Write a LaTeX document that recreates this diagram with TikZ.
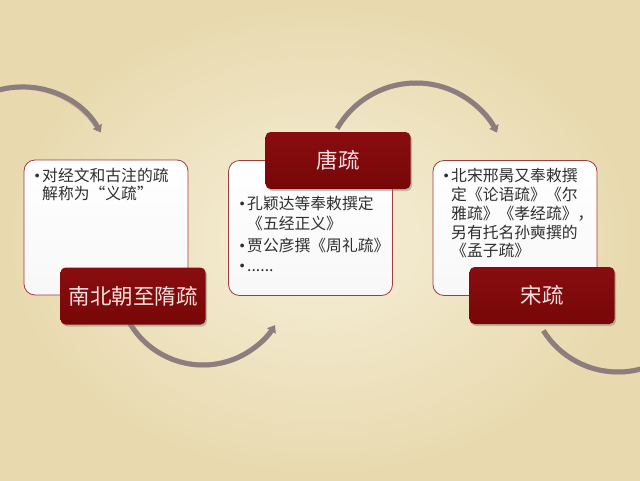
\documentclass[tikz,border=0pt]{standalone}
\usepackage{fontspec}
\newfontfamily\song{Noto Sans CJK SC}
\usetikzlibrary{arrows.meta,shadows,calc}
\definecolor{parch}{HTML}{F6EFD8}
\definecolor{parchdark}{HTML}{E8D9AE}
\definecolor{boxred}{HTML}{780708}
\definecolor{boxredlight}{HTML}{880D10}
\definecolor{arcgray}{HTML}{8D7D7F}
\definecolor{edgered}{HTML}{A03C3C}
\definecolor{bodytext}{HTML}{2E2E2E}
\definecolor{titletext}{HTML}{F4E2E0}
\newcommand\bul{\makebox[11pt][l]{\normalfont\fontsize{17}{17}\selectfont\raisebox{0.3pt}{\textbullet}}}
\begin{document}
\begin{tikzpicture}[x=1pt,y=-1pt,
  panel/.style={draw=edgered, line width=0.8pt, rounded corners=11pt,
    minimum width=164pt, minimum height=135pt, inner sep=0pt,
    top color=white, bottom color=white!94!gray},
  title/.style={top color=boxredlight, bottom color=boxred, rounded corners=5pt,
    minimum width=145pt, minimum height=57pt, inner sep=0pt, text=titletext,
    font=\song\fontsize{21.5}{24}\selectfont,
    drop shadow={opacity=0.45, shadow xshift=1.5pt, shadow yshift=-2pt}},
  item/.style={anchor=base west, inner sep=0pt, text=bodytext,
    font=\song\fontsize{15.8}{19}\selectfont},
  arcline/.style={draw=arcgray, line width=5pt},
  arcshade/.style={draw=black, opacity=0.16, line width=5pt},
  tipped/.style={-{Triangle[width=10pt,length=7pt]}}]
% background
\useasboundingbox (0,0) rectangle (640,480);
\shade[inner color=parch, outer color=parchdark] (0,0) rectangle (640,480);
% arc centres
\coordinate (c1) at (22,178);
\coordinate (c2) at (203,280);
\coordinate (c3) at (416,174);
\coordinate (c4) at (618,284);
% arc shadows
\begin{scope}[shift={(1.5,2.5)}]
\draw[arcshade] ($(c1)+(-107:91)$) arc[start angle=-107,end angle=-33,radius=91];
\draw[arcshade] ($(c2)+(150:85)$) arc[start angle=150,end angle=35,radius=85];
\draw[arcshade] ($(c3)+(-150:91)$) arc[start angle=-150,end angle=-30,radius=91];
\draw[arcshade] ($(c4)+(148:88)$) arc[start angle=148,end angle=55,radius=88];
\end{scope}
% arcs
\draw[arcline,tipped] ($(c1)+(-107:91)$) arc[start angle=-107,end angle=-30,radius=91];
\draw[arcline,tipped] ($(c2)+(150:85)$) arc[start angle=150,end angle=32,radius=85];
\draw[arcline,tipped] ($(c3)+(-150:91)$) arc[start angle=-150,end angle=-27,radius=91];
\draw[arcline] ($(c4)+(148:88)$) arc[start angle=148,end angle=55,radius=88];
% panels
\node[panel] (p1) at (106,227.5) {};
\node[panel] (p2) at (310.5,228) {};
\node[panel] (p3) at (515,228) {};
% titles
\node[title] (t1) at (133,296) {南北朝至隋疏};
\node[title] (t2) at (338,160.5) {唐疏};
\node[title] (t3) at (542,295.5) {宋疏};
% panel 1 text
\node[item] (a1) at (31,181) {\bul 对经文和古注的疏};
\node[item] (a2) at (42,199.5) {解称为“义疏”};
% panel 2 text
\node[item] (b1) at (236,209) {\bul 孔颖达等奉敕撰定};
\node[item] (b2) at (247,229) {《五经正义》};
\node[item] (b3) at (236,251) {\bul 贾公彦撰《周礼疏》};
\node[item] (b4) at (236,271) {\bul ......};
% panel 3 text
\node[item] (d1) at (440,181) {\bul 北宋邢昺又奉敕撰};
\node[item] (d2) at (451,200) {定《论语疏》《尔};
\node[item] (d3) at (451,219) {雅疏》《孝经疏》，};
\node[item] (d4) at (451,238) {另有托名孙奭撰的};
\node[item] (d5) at (451,256.5) {《孟子疏》};
\end{tikzpicture}
\end{document}
